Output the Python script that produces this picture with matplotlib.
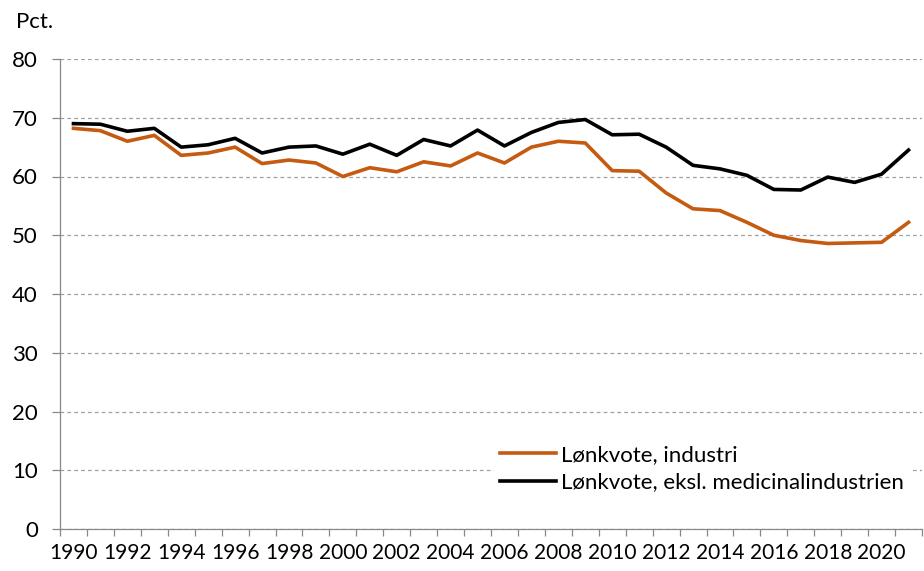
import matplotlib
matplotlib.use("Agg")
import matplotlib.pyplot as plt
import numpy as np

years = list(range(1990, 2022))
industri = [68.2, 67.8, 66.0, 67.0, 63.6, 64.0, 65.0, 62.2, 62.8, 62.3,
            60.0, 61.5, 60.8, 62.5, 61.8, 64.0, 62.3, 65.0, 66.0, 65.7,
            61.0, 60.9, 57.2, 54.5, 54.2, 52.2, 50.0, 49.1, 48.6, 48.7,
            48.8, 52.2]
ekskl_medicinal = [69.0, 68.9, 67.7, 68.2, 65.0, 65.4, 66.5, 64.0, 65.0, 65.2,
                   63.8, 65.5, 63.6, 66.3, 65.2, 67.9, 65.2, 67.5, 69.2, 69.7,
                   67.1, 67.2, 65.0, 61.9, 61.3, 60.2, 57.8, 57.7, 59.9, 59.0,
                   60.4, 64.5]
series_labels = ["Lønkvote, industri", "Lønkvote, eksl. medicinalindustrien"]
y_ticks = [0, 10, 20, 30, 40, 50, 60, 70, 80]

plt.rcParams['font.family'] = ['Lato', 'DejaVu Sans']
fig = plt.figure(figsize=(9.24, 5.71), dpi=100)
ax = fig.add_axes([60/924, 1-529/571, 862/924, 470/571])

x = np.arange(len(years))
ax.plot(x, industri, color='#C55A11', lw=2.6, label=series_labels[0])
ax.plot(x, ekskl_medicinal, color='#000000', lw=2.6, label=series_labels[1])

ax.set_xlim(-0.5, len(years) - 0.5)
ax.set_ylim(0, 80)
ax.set_yticks(y_ticks)
ax.set_yticklabels([str(v) for v in y_ticks])
ax.yaxis.grid(True, linestyle=(0, (3, 2.5)), color='#A0A0A0', lw=0.9)
ax.set_axisbelow(True)

major = [i for i, y in enumerate(years) if y % 2 == 0]
ax.set_xticks(major)
ax.set_xticklabels([str(years[i]) for i in major])
ax.set_xticks(np.arange(-0.5, len(years), 1.0), minor=True)
ax.tick_params(axis='x', which='major', length=0, labelsize=15, pad=10)
ax.tick_params(axis='x', which='minor', length=5, color='#888888', width=0.9)
ax.tick_params(axis='y', which='major', length=6, color='#888888', width=0.9, labelsize=16, pad=10)

for s in ['top', 'right']:
    ax.spines[s].set_visible(False)
for s in ['left', 'bottom']:
    ax.spines[s].set_color('#888888')
    ax.spines[s].set_linewidth(0.9)

fig.text(16/924, 1-22/571, "Pct.", fontsize=16, va='center', ha='left')

leg = ax.legend(loc='lower right', bbox_to_anchor=(1.0, 0.04), frameon=True,
                fontsize=16, handlelength=2.5, handletextpad=0.25, labelspacing=0.35,
                borderpad=0.3, fancybox=False)
leg.get_frame().set_edgecolor('none')
leg.get_frame().set_facecolor('white')
leg.get_frame().set_alpha(1)

fig.savefig("out.png", dpi=100)
